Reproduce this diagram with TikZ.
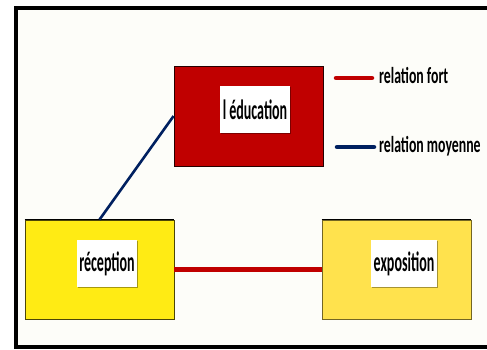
\documentclass[tikz,border=0pt]{standalone}
\usepackage{fontspec}
\usetikzlibrary{shadows}
\newfontfamily\legfont[FakeStretch=0.6]{Carlito}
\newfontfamily\labfont[FakeStretch=0.5]{Carlito}
\definecolor{bgc}{HTML}{FDFDF9}
\definecolor{redbox}{HTML}{C00000}
\definecolor{yel1}{HTML}{FFEB14}
\definecolor{yel2}{HTML}{FFE24D}
\definecolor{navy}{HTML}{002060}
\tikzset{
  bigbox/.style={rectangle, minimum width=149pt, minimum height=99pt, inner sep=0pt, line width=0.8pt},
  labbox/.style={rectangle, fill=white, inner sep=0pt, minimum height=47pt,
    drop shadow={shadow xshift=1pt, shadow yshift=-1pt, opacity=0.35, fill=black},
    font=\labfont\bfseries\fontsize{28}{28}\selectfont},
  legtext/.style={anchor=base west, inner sep=0pt, font=\legfont\bfseries\fontsize{23}{23}\selectfont},
  strongrel/.style={draw=redbox, line width=4.5pt},
  midrel/.style={draw=navy, line width=2.6pt}
}
\begin{document}
\begin{tikzpicture}[x=1pt,y=-1pt]
\useasboundingbox (0,0) rectangle (487,349);
\fill[white] (0,0) rectangle (487,349);
\fill[bgc] (16,8) rectangle (500,347);
\draw[black, line width=4.5pt] (500,8) -- (16,8) -- (16,347) -- (500,347);
% boxes
\node[bigbox, fill=redbox, draw=black!80!redbox, minimum height=100pt] (edu) at (248.5,116) {};
\node[bigbox, fill=yel1, draw=black!70!yel1] (rec) at (99.5,269.5) {};
\node[bigbox, fill=yel2, draw=black!55!yel2] (exp) at (396.5,269.5) {};
\draw[black, line width=1.5pt] (rec.north west) -- (rec.north east);
\draw[black, line width=1.5pt] (exp.north west) -- (exp.north east);
% labels
\node[labbox, minimum width=70pt] (edul) at (255,109.5) {l éducation};
\node[labbox, minimum width=60pt] (recl) at (107,263.5) {réception};
\node[labbox, minimum width=66pt] (expl) at (404,263.5) {exposition};
% connectors
\draw[strongrel] (rec.east) -- (exp.west);
\draw[midrel] (rec.north) -- (edu.west);
% legend
\coordinate (lf1) at (336,78);
\coordinate (lf2) at (372,78);
\coordinate (lm1) at (337,147);
\coordinate (lm2) at (374,147);
\draw[strongrel, line cap=round] (lf1) -- (lf2);
\draw[draw=navy, line width=4.5pt, line cap=round] (lm1) -- (lm2);
\node[legtext] (lft) at (379,83) {relation fort};
\node[legtext] (lmt) at (379,152) {relation moyenne};
\end{tikzpicture}
\end{document}
